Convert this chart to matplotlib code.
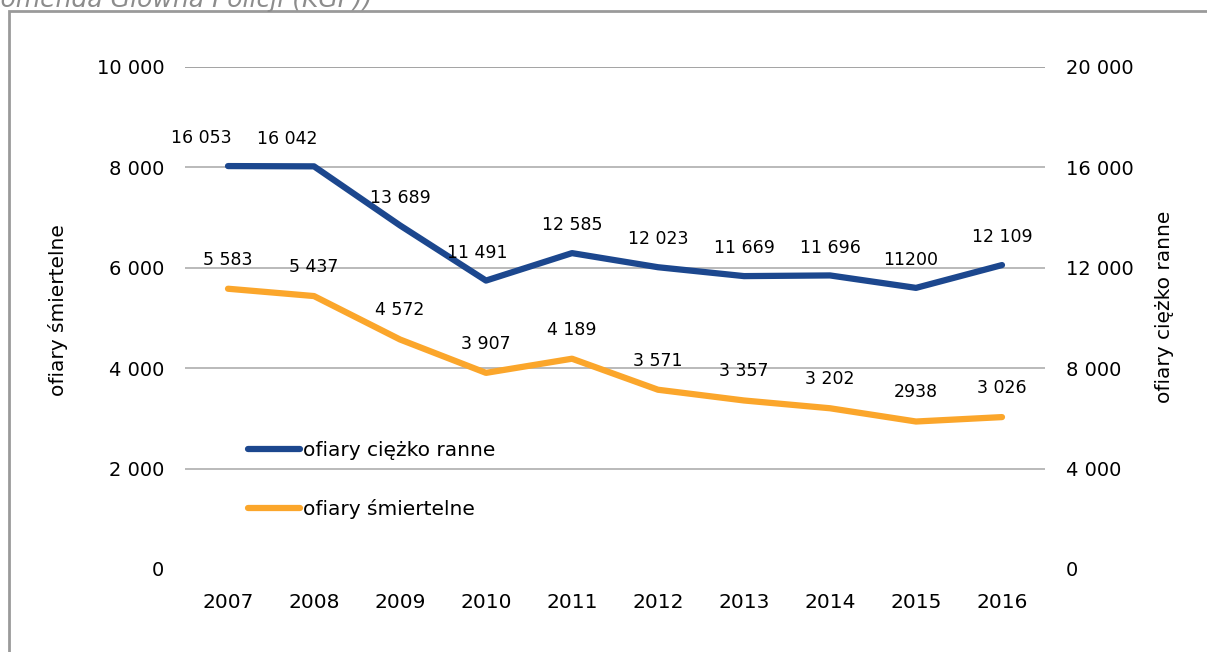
import matplotlib.pyplot as plt
from matplotlib.patches import Rectangle
from matplotlib.ticker import FuncFormatter

# data (KGP, 2007-2016)
years = ["2007", "2008", "2009", "2010", "2011",
         "2012", "2013", "2014", "2015", "2016"]
ranne = [16053, 16042, 13689, 11491, 12585, 12023, 11669, 11696, 11200, 12109]
smiertelne = [5583, 5437, 4572, 3907, 4189, 3571, 3357, 3202, 2938, 3026]
ranne_labels = ["16 053", "16 042", "13 689", "11 491", "12 585",
                "12 023", "11 669", "11 696", "11200", "12 109"]
smiertelne_labels = ["5 583", "5 437", "4 572", "3 907", "4 189",
                     "3 571", "3 357", "3 202", "2938", "3 026"]

BLUE = "#1C478E"
ORANGE = "#FBA62B"
GRID = "#B4B4B4"

W, H = 1207, 652
fig = plt.figure(figsize=(W / 100, H / 100), dpi=100)
ax = fig.add_axes([185 / W, 1 - 569 / H, 860 / W, 502 / H])
ax2 = ax.twinx()

x = list(range(len(years)))


def fmt(v, _):
    return f"{int(v):,}".replace(",", " ")


# left axis: ofiary smiertelne
ax.set_xlim(-0.5, len(years) - 0.5)
ax.set_ylim(0, 10000)
ax.set_yticks(range(0, 10001, 2000))
ax.yaxis.set_major_formatter(FuncFormatter(fmt))
for g in range(2000, 10001, 2000):
    ax.axhline(g, color="#9C9C9C" if g == 10000 else GRID, lw=1.3, zorder=0)

# right axis: ofiary ciezko ranne
ax2.set_ylim(0, 20000)
ax2.set_yticks(range(0, 20001, 4000))
ax2.yaxis.set_major_formatter(FuncFormatter(fmt))

for a in (ax, ax2):
    for s in a.spines.values():
        s.set_visible(False)
    a.tick_params(length=0, labelsize=14, pad=15)

ax.set_xticks(x)
ax.set_xticklabels(years, fontsize=14.5)
ax.tick_params(axis="x", pad=17)

l1, = ax2.plot(x, ranne, color=BLUE, lw=4.5, solid_capstyle="round",
               solid_joinstyle="round", label="ofiary ciężko ranne", zorder=3)
l2, = ax.plot(x, smiertelne, color=ORANGE, lw=4.5, solid_capstyle="round",
              solid_joinstyle="round", label="ofiary śmiertelne", zorder=3)

# data labels
blue_dx = [-19, -19, 0, -6, 0, 0, 0, 0, -4, 0]
for i, (v, t) in enumerate(zip(ranne, ranne_labels)):
    ax2.annotate(t, (i, v), xytext=(blue_dx[i], 20), textcoords="offset points",
                 ha="center", va="center", fontsize=12.5)
for i, (v, t) in enumerate(zip(smiertelne, smiertelne_labels)):
    ax2.annotate(t, (i, v / 10000 * 20000), xytext=(0, 21),
                 textcoords="offset points", ha="center", va="center",
                 fontsize=12.5)

leg = ax2.legend(handles=[l1, l2], loc="upper left",
                 bbox_to_anchor=((248 - 185) / 860, (569 - 441) / 502),
                 frameon=False, fontsize=14.5, handlelength=2.6,
                 handletextpad=0.15, labelspacing=1.95, borderpad=0,
                 borderaxespad=0)

# axis titles
fig.text(58 / W, 1 - 310 / H, "ofiary śmiertelne", rotation=90,
         ha="center", va="center", fontsize=14.5)
fig.text(1165 / W, 1 - 307 / H, "ofiary ciężko ranne", rotation=90,
         ha="center", va="center", fontsize=14.5)

# frame and cut-off source line above it
fig.patches.append(Rectangle((9 / W, -0.2), 1.2, 1.2 - 11 / H,
                             transform=fig.transFigure, fill=False,
                             edgecolor="#9A9A9A", lw=2, clip_on=False))
fig.text(372 / W, 1 - 7 / H, "Komenda Główna Policji (KGP))",
         ha="right", va="baseline", fontsize=18, style="italic",
         color="#8C8C8C")

fig.savefig("out.png", dpi=100)
